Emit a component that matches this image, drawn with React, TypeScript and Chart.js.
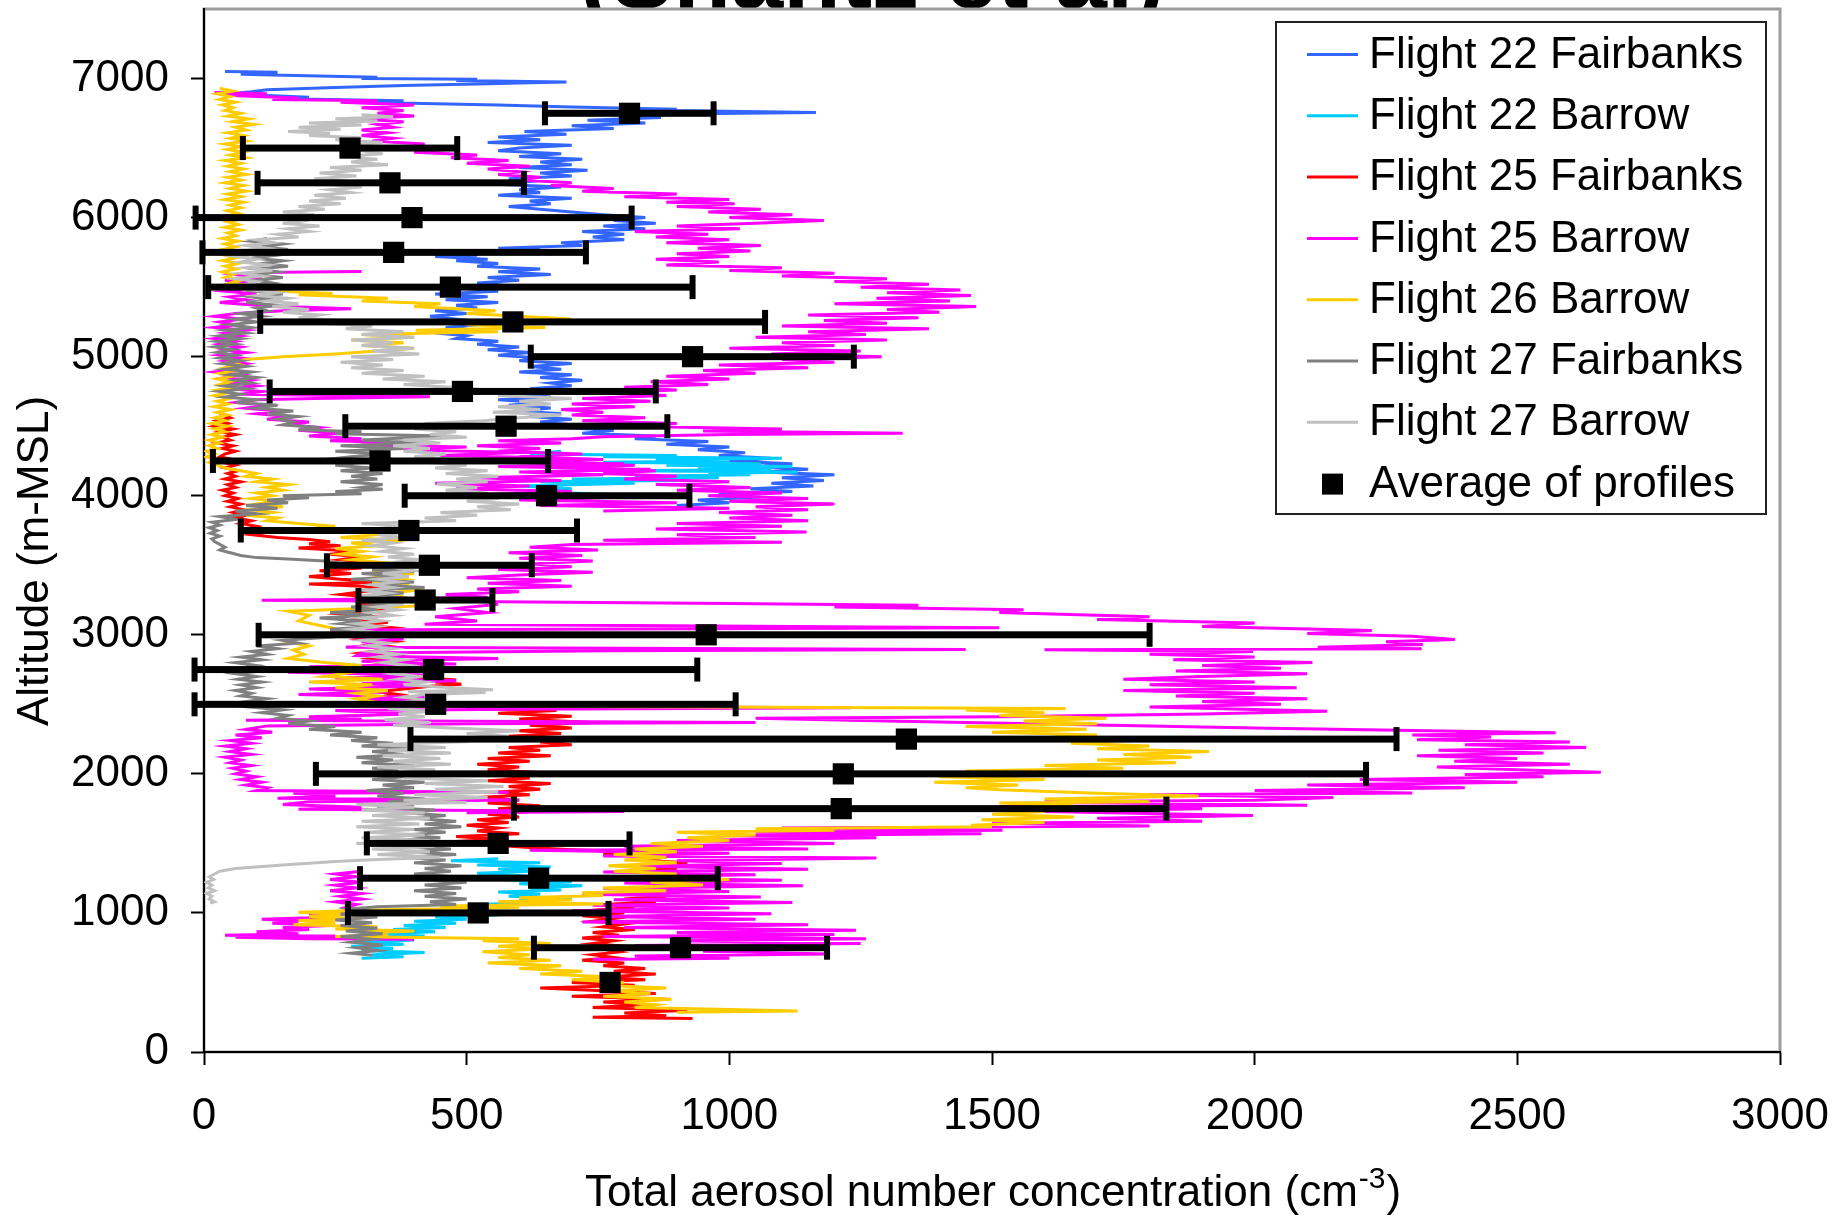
import React, { useEffect, useRef } from "react";
import { Chart, registerables } from "chart.js";

Chart.register(...registerables);

type Pt = [number, number] | null;

// Each profile: [concentration (cm^-3), altitude (m)], listed from the top of the profile down.
// A null entry breaks the line between two separate legs of the same flight.
const flight22Fairbanks: Pt[] = [
  [40,7050],[140,7045],[70,7030],[130,7025],[330,7010],[300,7000],[520,6995],[480,6985],[690,6975],[600,6968],
  [520,6960],[380,6950],[250,6935],[120,6920],[90,6905],[60,6895],[110,6880],[200,6865],[150,6855],[380,6840],
  [300,6830],[560,6810],[700,6795],[900,6780],[860,6772],[1165,6755],[980,6748],[820,6735],[870,6720],[730,6700],
  [840,6680],[700,6660],[780,6640],[610,6620],[690,6600],[560,6580],[640,6560],[540,6540],[700,6520],[600,6500],
  [560,6480],[680,6460],[600,6440],[720,6420],[640,6400],[700,6380],[600,6360],[730,6340],[640,6320],[700,6300],
  [580,6280],[620,6260],[560,6240],[680,6220],[600,6200],[640,6180],[560,6160],[700,6140],[620,6120],[660,6100],
  [580,6080],[640,6060],[700,6040],[760,6020],[840,6000],[780,5980],[860,5960],[760,5940],[840,5920],[720,5900],
  [800,5880],[740,5860],[800,5840],[680,5820],[720,5800],[560,5780],[640,5770],[460,5750],[520,5730],[440,5720],
  [540,5700],[480,5690],[560,5670],[520,5650],[640,5630],[560,5610],[660,5590],[540,5570],[600,5550],[520,5530],
  [580,5510],[500,5490],[560,5470],[440,5450],[540,5430],[460,5410],[560,5390],[480,5370],[520,5350],[440,5330],
  [500,5310],[430,5290],[480,5270],[440,5250],[520,5230],[460,5210],[520,5190],[440,5170],[500,5150],[480,5130],
  [560,5110],[520,5090],[600,5070],[540,5050],[620,5030],[560,5010],[640,4990],[600,4970],[700,4950],[620,4930],
  [680,4910],[600,4890],[700,4870],[640,4850],[720,4830],[660,4810],[700,4790],[620,4770],[680,4750],[600,4730],
  [660,4710],[560,4690],[640,4670],[580,4650],[660,4630],[600,4610],[680,4590],[620,4570],[700,4550],[640,4530],
  [700,4510],[680,4490],[780,4470],[720,4450],[860,4430],[820,4410],[960,4390],[880,4370],[1000,4350],[940,4330],
  [1030,4310],[980,4290],[1080,4270],[1000,4250],[1120,4230],[1050,4210],[1150,4190],[1060,4170],[1200,4150],[1100,4130],
  [1180,4110],[1080,4090],[1160,4070],[1040,4050],[1120,4030],[980,4010],[1060,3990],[940,3970],[1000,3950],[900,3930]
];

const flight22Barrow: Pt[] = [
  [680,4320],[620,4300],[900,4290],[760,4280],[1100,4270],[860,4260],[1000,4250],[760,4240],[1060,4230],[880,4220],
  [1120,4210],[940,4200],[1080,4190],[800,4180],[1130,4170],[960,4160],[1040,4150],[820,4140],[980,4130],[700,4120],
  [900,4110],[640,4100],[820,4090],[600,4070],[700,4050],[620,4030],[760,4010],[680,3995],
  null,
  [560,1390],[470,1375],[640,1360],[520,1345],[660,1330],[560,1315],[620,1300],[520,1285],[600,1270],[660,1255],
  [560,1240],[700,1225],[600,1210],[720,1195],[620,1180],[680,1165],[560,1150],[640,1135],[580,1120],[700,1105],
  [600,1090],[640,1075],[520,1060],[580,1045],[460,1030],[540,1015],[480,1000],[560,985],[440,970],[500,955],
  [400,940],[480,925],[380,910],[460,895],[360,880],[440,865],[340,850],[420,835],[320,820],[400,805],
  [300,790],[380,775],[280,760],[360,745],[300,730],[420,715],[320,700],[380,685],[300,675]
];

const flight25Fairbanks: Pt[] = [
  [30,4590],[50,4560],[25,4540],[45,4520],[20,4500],[55,4480],[30,4460],[60,4440],[35,4420],[50,4400],
  [25,4380],[55,4360],[35,4340],[60,4320],[40,4300],[30,4280],[55,4260],[35,4240],[60,4220],[40,4200],
  [65,4180],[45,4160],[60,4140],[40,4120],[70,4100],[45,4080],[60,4060],[35,4040],[55,4020],[40,4000],
  [65,3980],[45,3960],[70,3940],[50,3920],[75,3900],[55,3880],[80,3860],[60,3840],[90,3820],[70,3800],
  [100,3780],[80,3760],[120,3740],[90,3720],[140,3700],[200,3685],[240,3670],[200,3655],[260,3640],[180,3625],
  [247,3610],[280,3595],[240,3580],[300,3560],[260,3540],[320,3520],[260,3500],[300,3480],[220,3460],[280,3440],
  [200,3420],[260,3400],[356,3380],[200,3365],[300,3350],[340,3330],[300,3310],[260,3290],[320,3270],[270,3250],
  [340,3230],[290,3210],[350,3190],[300,3170],[260,3150],[330,3130],[290,3110],[350,3090],[300,3070],[360,3050],
  [320,3030],[290,3010],[340,2990],[300,2970],[360,2950],[320,2930],[366,2910],[340,2890],[300,2870],[360,2850],
  [320,2830],[380,2810],[340,2790],[300,2770],[360,2750],[330,2730],[380,2710],[420,2690],[480,2675],[440,2660],
  [490,2645],[430,2630],[380,2610],[330,2590],[370,2570],[330,2550],[400,2530],[460,2510],[560,2490],[500,2470],
  [671,2455],[560,2435],[700,2415],[600,2395],[738,2370],[620,2350],[700,2330],[600,2310],[680,2290],[580,2270],
  [759,2250],[640,2230],[700,2210],[580,2190],[640,2170],[560,2150],[660,2130],[540,2110],[620,2090],[520,2070],
  [600,2050],[540,2030],[640,2010],[560,1990],[620,1970],[540,1950],[660,1930],[580,1910],[640,1890],[560,1870],
  [620,1850],[520,1830],[600,1810],[540,1790],[640,1770],[560,1750],[620,1730],[540,1710],[600,1690],[520,1670],
  [580,1650],[500,1630],[560,1610],[520,1590],[600,1570],[480,1550],[560,1530],[460,1510],[540,1490],[620,1470],
  [700,1455],[820,1440],[760,1420],[880,1400],[820,1380],[920,1360],[860,1340],[900,1320],[820,1300],[920,1280],
  [860,1260],[940,1240],[880,1220],[920,1200],[840,1180],[900,1160],[820,1140],[880,1120],[800,1100],[860,1080],
  [760,1060],[820,1040],[740,1020],[800,1000],[720,980],[780,960],[740,940],[800,920],[760,900],[820,880],
  [740,860],[790,840],[720,820],[780,800],[740,780],[800,760],[760,740],[790,720],[740,700],[780,680],
  [720,660],[800,640],[760,620],[840,600],[780,580],[860,560],[760,540],[840,520],[700,500],[820,480],
  [640,460],[760,440],[860,420],[700,400],[880,380],[760,360],[840,340],[740,320],[920,300],[800,280],
  [880,260],[740,250],[930,240]
];

const flight25Barrow: Pt[] = [
  [20,6900],[120,6890],[40,6880],[100,6870],[180,6860],[130,6850],[330,6840],[260,6830],[400,6810],[300,6790],
  [380,6770],[330,6750],[400,6730],[290,6710],[380,6690],[330,6670],[360,6650],[300,6630],[350,6610],[300,6590],
  [360,6570],[320,6550],[420,6530],[380,6510],[460,6490],[400,6470],[520,6450],[470,6430],[580,6410],[500,6390],
  [620,6370],[540,6350],[600,6330],[560,6310],[640,6290],[600,6270],[700,6250],[660,6230],[780,6210],[720,6190],
  [900,6170],[800,6150],[1000,6130],[880,6110],[1010,6100],[900,6080],[1060,6060],[960,6040],[1120,6020],[1000,6000],
  [1180,5980],[1050,5960],[900,5940],[1020,5920],[820,5900],[960,5880],[860,5860],[1000,5840],[880,5820],[1060,5800],
  [940,5780],[1040,5760],[900,5740],[1000,5720],[860,5700],[980,5680],[880,5660],[1100,5640],[1000,5620],[1200,5600],
  [1100,5580],[1300,5560],[1200,5540],[1380,5520],[1250,5500],[1440,5480],[1300,5460],[1460,5440],[1280,5420],[1420,5400],
  [1200,5380],[1470,5360],[1300,5340],[1400,5320],[1150,5300],[1360,5280],[1180,5260],[1300,5240],[1100,5220],[1380,5200],
  [1150,5180],[1260,5160],[1050,5140],[1300,5120],[1100,5100],[1200,5080],[1000,5060],[1250,5040],[1080,5020],[1290,5000],
  [1100,4980],[1200,4960],[980,4940],[1150,4920],[950,4900],[1050,4880],[880,4860],[1000,4840],[850,4820],[960,4800],
  [800,4780],[900,4760],[760,4740],[880,4720],[720,4700],[850,4680],[700,4660],[820,4640],[680,4620],[760,4600],
  [700,4580],[840,4560],[720,4540],[900,4520],[800,4500],[1100,4480],[950,4465],[1330,4450],[1000,4440],[760,4425],
  [700,4410],[560,4395],[680,4380],[520,4360],[640,4340],[560,4320],[720,4300],[600,4280],[760,4260],[640,4240],
  [820,4220],[700,4200],[860,4180],[760,4160],[900,4140],[800,4120],[1000,4100],[860,4080],[1040,4060],[900,4040],
  [1100,4020],[960,4000],[1150,3980],[1000,3960],[1200,3940],[1050,3920],[1150,3900],[980,3880],[1120,3860],[1000,3840],
  [1150,3820],[900,3800],[1100,3780],[860,3760],[1147,3740],[900,3720],[1050,3700],[760,3680],[1100,3665],[700,3650],
  [620,3630],[750,3610],[580,3590],[720,3570],[600,3550],[740,3530],[620,3510],[700,3490],[560,3470],[740,3450],
  [600,3430],[500,3410],[680,3390],[540,3370],[700,3350],[520,3330],[600,3310],[460,3290],[540,3270],[300,3255],
  [110,3248],[250,3244],[560,3238],[1000,3225],[1360,3212],[1200,3200],[1560,3180],[1514,3160],[1800,3130],[1700,3110],
  [2000,3085],[1900,3060],[2223,3031],[2100,3010],[2300,2990],[2381,2966],[2250,2950],[2320,2930],[2120,2910],[2318,2900],
  [1600,2893],[1997,2880],[1800,2860],[2000,2840],[1845,2820],[2110,2800],[1900,2780],[2050,2760],[1850,2740],[2100,2720],
  [1900,2700],[1750,2680],[2000,2660],[1800,2640],[2080,2620],[1750,2600],[2000,2580],[1850,2560],[2100,2540],[1900,2520],
  [2050,2500],[1800,2480],[2138,2450],[1900,2430],[1514,2410],[1050,2400],[1300,2380],[2000,2330],[2573,2295],[2300,2280],
  [2450,2265],[2309,2246],[2600,2230],[2400,2210],[2631,2190],[2350,2170],[2550,2150],[2309,2130],[2500,2110],[2380,2090],
  [2600,2070],[2347,2050],[2500,2030],[2659,2011],[2400,1995],[2550,1980],[2200,1960],[2500,1940],[2100,1920],[2400,1900],
  [2000,1880],[2300,1862],[1800,1850],[2150,1830],[2000,1810],[1600,1800],[1800,1790],[2100,1775],[1514,1766],[1900,1750],
  [1600,1730],[1997,1700],[1700,1680],[1900,1660],[1500,1645],[1800,1625],[1100,1610],[1520,1595],[1050,1580],[1480,1570],
  [1000,1555],[1280,1540],[900,1520],[1200,1500],[800,1480],[1150,1460],[620,1450],[1000,1430],[760,1410],[1280,1395],
  [900,1375],[1100,1355],[820,1335],[1150,1315],[760,1295],[1050,1275],[720,1255],[1100,1235],[800,1215],[1140,1195],
  [760,1175],[1000,1155],[720,1135],[1060,1115],[780,1095],[1120,1075],[740,1055],[1000,1035],[700,1015],[1080,995],
  [760,975],[1050,955],[720,935],[1150,915],[800,895],[1241,875],[900,860],[1200,845],[760,830],[1260,815],
  [900,800],[1250,780],[820,765],[1180,745],[950,725],[1190,705],[820,690],[1000,675],[740,665],
  null,
  [300,5612],[100,5605],[60,5590],[110,5570],[40,5550],[90,5530],[30,5510],[80,5490],[40,5470],[100,5450],
  [50,5430],[80,5410],[30,5390],[120,5365],[280,5345],[150,5330],[60,5310],[20,5290],[70,5270],[30,5250],
  [60,5230],[20,5210],[80,5190],[40,5170],[70,5150],[20,5130],[60,5110],[30,5090],[70,5070],[40,5050],
  [80,5030],[30,5010],[70,4990],[40,4970],[80,4950],[50,4930],[60,4910],[20,4890],[70,4870],[40,4850],
  [90,4830],[60,4810],[100,4790],[50,4770],[110,4750],[70,4730],[430,4712],[210,4700],[100,4690],[60,4670],
  [120,4650],[80,4630],[140,4610],[100,4590],[160,4570],[120,4550],[200,4530],[160,4510],[220,4490],[180,4470],
  [260,4450],[200,4430],[300,4410],[240,4395],[400,4380],[300,4365],[500,4350],[380,4330],[600,4310],[450,4290],
  [700,4270],[500,4250],[800,4230],[560,4210],[850,4190],[600,4170],[760,4150],[520,4130],[680,4110],[440,4090],
  [620,4070],[480,4050],[700,4030],[560,4010],[800,3990],[600,3970],[900,3950],[640,3930],[1000,3910],[760,3890],
  null,
  [560,3220],[480,3190],[540,3160],[440,3130],[520,3100],[420,3075],[1514,3050],[800,3042],[240,3035],[300,3010],
  [260,2990],[380,2970],[300,2950],[350,2930],[270,2910],[1450,2895],[770,2885],[300,2870],[290,2850],[560,2830],
  [300,2810],[480,2790],[200,2770],[420,2750],[160,2730],[450,2710],[250,2690],[480,2670],[300,2650],[400,2630],
  [200,2610],[350,2590],[180,2570],[420,2550],[300,2530],[480,2510],[250,2490],[1230,2475],[600,2465],[250,2455],
  [400,2430],[200,2410],[300,2395],[80,2385],[1050,2370],[500,2360],[120,2345],[80,2320],[130,2300],[60,2280],
  [110,2260],[50,2240],[90,2220],[40,2200],[80,2180],[50,2160],[90,2140],[40,2120],[70,2100],[50,2080],
  [90,2060],[55,2040],[80,2020],[60,2000],[100,1980],[70,1960],[110,1940],[80,1920],[120,1900],[100,1880],
  [580,1868],[170,1860],[250,1840],[140,1825],[600,1812],[200,1800],[150,1780],[300,1760],[180,1745],[800,1730],
  [500,1720],
  null,
  [300,1300],[250,1280],[290,1260],[240,1240],[300,1220],[250,1200],[290,1180],[240,1160],[300,1140],[260,1120],
  [300,1100],[250,1080],[290,1060],[270,1040],[300,1020],[260,1000],[200,985],[250,970],[110,955],[180,940],
  [130,925],[240,910],[150,895],[200,880],[100,865],[180,850],[40,840],[250,835],[60,825],[200,815],[400,810]
];

const flight26Barrow: Pt[] = [
  [30,6930],[55,6910],[25,6890],[50,6870],[30,6850],[60,6830],[35,6810],[55,6790],[40,6770],[70,6750],
  [45,6730],[85,6710],[55,6690],[95,6670],[60,6650],[80,6630],[45,6610],[75,6590],[50,6570],[80,6550],
  [40,6530],[70,6510],[45,6490],[75,6470],[50,6450],[80,6430],[40,6410],[70,6390],[45,6370],[75,6350],
  [50,6330],[80,6310],[45,6290],[70,6270],[40,6250],[75,6230],[50,6210],[80,6190],[45,6170],[70,6150],
  [40,6130],[75,6110],[50,6090],[70,6070],[45,6050],[65,6030],[40,6010],[70,5990],[45,5970],[65,5950],
  [40,5930],[70,5910],[45,5890],[60,5870],[35,5850],[65,5830],[40,5810],[60,5790],[35,5770],[65,5750],
  [40,5730],[60,5710],[35,5690],[65,5670],[40,5650],[60,5630],[35,5610],[55,5590],[40,5570],[70,5550],
  [50,5530],[90,5510],[70,5490],[140,5470],[245,5455],[180,5445],[350,5420],[300,5400],[450,5380],[400,5360],
  [555,5330],[500,5310],[600,5290],[698,5270],[600,5250],[500,5230],[650,5210],[403,5190],[560,5180],[300,5160],
  [400,5140],[280,5120],[380,5100],[300,5080],[400,5060],[330,5040],[250,5020],[150,5000],[80,4980],[50,4960],
  [70,4940],[40,4920],[60,4900],[30,4880],[55,4860],[25,4840],[50,4820],[30,4800],[55,4780],[25,4760],
  [45,4740],[20,4720],[50,4700],[25,4680],[45,4660],[20,4640],[50,4620],[25,4600],[45,4580],[20,4560],
  [40,4540],[15,4520],[45,4500],[20,4480],[40,4460],[15,4440],[35,4420],[10,4400],[30,4380],[10,4360],
  [25,4340],[5,4320],[20,4300],[5,4280],[20,4260],[10,4240],[25,4220],[40,4200],[70,4180],[100,4160],
  [80,4140],[130,4120],[100,4100],[160,4080],[120,4060],[150,4040],[100,4020],[130,4000],[90,3980],[140,3960],
  [100,3940],[150,3920],[90,3900],[130,3880],[80,3860],[140,3840],[120,3820],[180,3800],[250,3780],[200,3760],
  [300,3740],[330,3720],[260,3700],[380,3680],[280,3660],[330,3640],[250,3620],[300,3600],[260,3580],[320,3560],
  [280,3540],[340,3520],[300,3500],[360,3480],[320,3460],[400,3440],[340,3420],[380,3400],[320,3380],[390,3360],
  [340,3340],[400,3320],[360,3300],[420,3210],[300,3190],[160,3170],[200,3140],[180,3100],[230,3060],[280,3020],
  [220,3000],[190,2980],[160,2950],[200,2920],[170,2890],[190,2860],[160,2830],[230,2800],[300,2780],[240,2760],
  [280,2730],[230,2700],[340,2680],[200,2660],[320,2640],[250,2620],[350,2600],[290,2580],[330,2560],[290,2540],
  [320,2520],[300,2500],[700,2485],[1200,2478],[1640,2470],[1450,2460],[1600,2440],[1514,2420],[1718,2400],[1560,2380],
  [1700,2360],[1450,2340],[1680,2320],[1500,2300],[1700,2280],[1600,2260],[1750,2240],[1650,2220],[1800,2200],[1700,2180],
  [1913,2160],[1750,2140],[1880,2120],[1700,2100],[1850,2080],[1600,2060],[1750,2040],[1450,2020],[1650,2000],[1400,1980],
  [1600,1960],[1390,1940],[1550,1920],[1450,1900],[1514,1885],[1700,1860],[1893,1840],[1600,1820],[1800,1800],[1514,1790],
  [1656,1770],[1460,1750],[1600,1730],[1500,1710],[1656,1690],[1480,1670],[1600,1650],[1460,1630],[1500,1620],[1050,1605],
  [1200,1595],[900,1580],[1050,1560],[920,1540],[1000,1520],[850,1500],[950,1480],[820,1460],[900,1440],[780,1420],
  [880,1400],[800,1380],[900,1360],[770,1340],[860,1320],[780,1300],[900,1280],[820,1260],[1000,1240],[850,1220],
  [950,1200],[760,1180],[880,1160],[720,1145],[760,1125],[600,1110],[700,1095],[560,1080],[760,1065],[450,1050],
  [600,1040],[300,1020],[180,1005],[270,990],[200,975],[300,960],[180,945],[250,930],[170,915],[330,900],
  [250,885],[400,870],[300,855],[350,840],[250,830],[600,815],[530,800],[660,780],[560,760],[640,740],
  [530,720],[620,700],[560,680],[660,660],[540,640],[680,620],[600,600],[720,580],[640,560],[780,540],
  [700,520],[800,500],[760,480],[880,460],[780,440],[850,420],[760,400],[890,380],[800,360],[860,340],
  [820,320],[1000,305],[1130,295],[900,285]
];

const flight27Fairbanks: Pt[] = [
  [120,5850],[90,5830],[150,5810],[110,5790],[160,5770],[100,5750],[140,5730],[90,5710],[150,5690],[110,5670],
  [160,5650],[100,5630],[140,5610],[90,5590],[150,5570],[100,5550],[130,5530],[80,5510],[140,5490],[100,5470],
  [150,5450],[90,5430],[130,5410],[80,5390],[140,5370],[100,5350],[120,5330],[70,5310],[110,5290],[60,5270],
  [100,5250],[50,5230],[90,5210],[40,5190],[80,5170],[30,5150],[70,5130],[25,5110],[60,5090],[20,5070],
  [55,5050],[25,5030],[60,5010],[30,4990],[70,4970],[35,4950],[80,4930],[40,4910],[90,4890],[50,4870],
  [100,4850],[60,4830],[90,4810],[40,4790],[80,4770],[30,4750],[70,4730],[40,4710],[100,4690],[60,4670],
  [140,4650],[100,4630],[170,4610],[120,4590],[180,4570],[140,4550],[170,4530],[150,4510],[220,4490],[180,4475],
  [300,4460],[250,4445],[460,4430],[380,4415],[300,4400],[420,4380],[260,4360],[380,4340],[250,4320],[340,4300],
  [280,4280],[230,4260],[300,4240],[250,4220],[320,4200],[260,4180],[340,4160],[280,4140],[330,4120],[260,4100],
  [340,4080],[300,4060],[340,4046],[250,4030],[300,4015],[150,4000],[200,3985],[120,3970],[160,3950],[80,3930],
  [140,3910],[60,3890],[100,3870],[30,3850],[60,3830],[15,3810],[30,3790],[10,3770],[25,3750],[12,3730],
  [30,3710],[15,3690],[20,3670],[30,3650],[40,3630],[30,3610],[50,3590],[70,3570],[100,3555],[160,3545],
  [230,3530],[260,3515],[300,3500],[360,3485],[320,3470],[400,3455],[300,3440],[380,3420],[280,3400],[400,3380],
  [320,3360],[420,3340],[300,3320],[380,3300],[320,3280],[400,3260],[300,3240],[360,3220],[280,3200],[330,3180],
  [240,3160],[320,3140],[220,3120],[300,3100],[260,3080],[330,3060],[240,3040],[300,3020],[200,3000],[230,2980],
  [150,2960],[180,2940],[100,2920],[140,2900],[90,2880],[120,2860],[70,2840],[110,2820],[60,2800],[100,2780],
  [70,2760],[110,2740],[60,2720],[100,2700],[65,2680],[110,2660],[70,2640],[100,2620],[60,2600],[90,2580],
  [70,2560],[120,2540],[80,2520],[130,2500],[90,2480],[150,2460],[110,2440],[160,2420],[140,2400],[200,2380],
  [160,2360],[250,2340],[200,2320],[300,2300],[240,2280],[330,2260],[280,2240],[360,2220],[300,2200],[400,2180],
  [320,2160],[380,2140],[290,2120],[360,2100],[300,2080],[400,2060],[320,2040],[370,2020],[300,2000],[380,1980],
  [320,1960],[420,1940],[340,1920],[400,1900],[310,1880],[380,1860],[330,1840],[420,1820],[350,1800],[400,1780],
  [330,1760],[440,1740],[380,1720],[460,1700],[400,1680],[480,1660],[420,1640],[490,1620],[400,1600],[460,1580],
  [380,1560],[450,1540],[360,1520],[440,1500],[380,1480],[470,1460],[400,1440],[480,1420],[380,1400],[460,1380],
  [400,1360],[490,1340],[420,1320],[470,1300],[400,1280],[480,1260],[410,1240],[500,1220],[420,1200],[490,1180],
  [400,1160],[480,1140],[420,1120],[500,1100],[430,1080],[480,1060],[330,1045],[280,1030],[320,1010],[260,990],
  [330,970],[250,950],[320,930],[260,910],[330,890],[270,870],[340,850],[260,830],[320,810],[280,790],
  [340,770],[290,750],[330,730],[280,710],[320,695]
];

const flight27Barrow: Pt[] = [
  [300,6740],[360,6725],[250,6710],[330,6695],[200,6680],[300,6665],[180,6650],[260,6635],[160,6620],[240,6605],
  [200,6590],[300,6575],[250,6560],[340,6540],[280,6520],[360,6500],[300,6480],[340,6460],[260,6440],[330,6420],
  [280,6400],[350,6380],[240,6360],[300,6340],[220,6320],[290,6300],[210,6280],[280,6260],[230,6240],[300,6220],
  [240,6200],[280,6180],[210,6160],[270,6140],[200,6120],[260,6100],[180,6080],[230,6060],[150,6040],[210,6020],
  [140,6000],[200,5980],[150,5960],[220,5940],[160,5920],[200,5900],[140,5880],[180,5860],[100,5840],[130,5820],
  [80,5800],[120,5780],[70,5760],[110,5740],[60,5720],[100,5700],[70,5680],[120,5660],[80,5640],[130,5620],
  [70,5600],[110,5580],[60,5560],[100,5540],[80,5520],[120,5500],[90,5480],[140,5460],[100,5440],[160,5420],
  [120,5400],[180,5380],[130,5360],[200,5340],[150,5320],[220,5300],[180,5280],[260,5260],[220,5240],[320,5220],
  [270,5200],[380,5180],[300,5160],[400,5140],[280,5120],[360,5100],[300,5080],[400,5060],[320,5040],[410,5020],
  [280,5000],[360,4980],[260,4960],[340,4940],[280,4920],[380,4900],[300,4880],[420,4860],[340,4840],[460,4820],
  [380,4800],[470,4780],[540,4760],[620,4740],[560,4720],[700,4700],[600,4680],[660,4660],[560,4640],[640,4620],
  [550,4600],[680,4580],[600,4560],[530,4540],[420,4520],[500,4500],[400,4480],[480,4460],[430,4440],[500,4420],
  [380,4400],[450,4380],[360,4360],[430,4340],[380,4320],[460,4300],[400,4280],[480,4260],[420,4240],[500,4220],
  [440,4200],[540,4180],[460,4160],[560,4140],[480,4120],[540,4100],[443,4085],[520,4060],[460,4040],[540,4020],
  [480,4000],[560,3980],[500,3960],[600,3940],[520,3920],[584,3900],[450,3880],[520,3860],[420,3840],[480,3820],
  [300,3800],[388,3780],[320,3760],[400,3740],[330,3720],[380,3700],[300,3680],[360,3660],[320,3640],[380,3620],
  [340,3600],[400,3580],[350,3560],[410,3540],[360,3520],[420,3500],[370,3480],[400,3460],[340,3440],[390,3420],
  [330,3400],[370,3380],[320,3360],[360,3340],[310,3320],[350,3300],[300,3280],[360,3260],[320,3240],[380,3220],
  [330,3200],[370,3180],[320,3160],[360,3140],[300,3120],[340,3100],[290,3080],[330,3060],[280,3040],[320,3020],
  [290,3000],[340,2980],[300,2960],[350,2940],[310,2920],[360,2900],[320,2880],[370,2860],[330,2840],[380,2820],
  [340,2800],[390,2780],[350,2760],[400,2740],[360,2720],[410,2700],[370,2680],[420,2660],[380,2640],[470,2620],
  [550,2605],[388,2590],[536,2585],[420,2570],[380,2550],[430,2530],[360,2510],[420,2490],[350,2470],[430,2450],
  [370,2430],[420,2410],[344,2390],[432,2370],[360,2350],[470,2330],[600,2310],[500,2290],[580,2270],[450,2250],
  [480,2230],[330,2210],[460,2190],[350,2170],[470,2150],[340,2130],[450,2110],[360,2090],[470,2070],[330,2050],
  [440,2030],[380,2010],[460,1990],[380,1970],[540,1950],[420,1930],[570,1910],[440,1890],[560,1870],[400,1850],
  [540,1830],[380,1810],[500,1795],[290,1780],[400,1760],[300,1740],[420,1720],[320,1700],[430,1680],[300,1660],
  [410,1640],[290,1620],[400,1600],[310,1580],[420,1560],[300,1540],[430,1520],[290,1500],[440,1480],[320,1460],
  [430,1440],[330,1420],[450,1400],[330,1385],[250,1370],[150,1345],[60,1320],[30,1300],[20,1280],[10,1260],
  [18,1240],[5,1220],[15,1200],[8,1180],[20,1160],[5,1140],[15,1120],[10,1100],[20,1080],[12,1070]
];

// Average of the profiles in 250 m layers, with the horizontal spread bars
const avgAltitude = [6750,6500,6250,6000,5750,5500,5250,5000,4750,4500,4250,4000,3750,3500,3250,3000,2750,2500,2250,2000,1750,1500,1250,1000,750,500];
const avgConcentration = [810,278,354,396,361,469,588,930,492,575,335,652,390,429,421,956,437,441,1337,1217,1213,560,637,522,907,773];
const avgLower: (number | null)[] = [649,74,102,-16,-3,8,107,622,125,269,17,382,70,234,294,104,-18,-18,393,213,590,310,297,274,628,null];
const avgUpper: (number | null)[] = [970,482,609,814,727,930,1068,1237,860,882,655,924,710,624,549,1800,939,1012,2270,2212,1832,810,978,770,1186,null];

const xTickValues = [0, 500, 1000, 1500, 2000, 2500, 3000];
const yTickValues = [0, 1000, 2000, 3000, 4000, 5000, 6000, 7000];

const seriesNames = [
  "Flight 22 Fairbanks",
  "Flight 22 Barrow",
  "Flight 25 Fairbanks",
  "Flight 25 Barrow",
  "Flight 26 Barrow",
  "Flight 27 Fairbanks",
  "Flight 27 Barrow",
];
const seriesColors = ["#3366FF", "#00CCFF", "#FF0000", "#FF00FF", "#FFCC00", "#808080", "#C0C0C0"];
const seriesData = [flight22Fairbanks, flight22Barrow, flight25Fairbanks, flight25Barrow, flight26Barrow, flight27Fairbanks, flight27Barrow];
const averageName = "Average of profiles";

const chartTitle = "(Shantz et al)";
const xAxisTitle = "Total aerosol number concentration (cm";
const xAxisTitleSup = "-3";
const yAxisTitle = "Altitude (m-MSL)";

const FONT = '"Liberation Sans", Arial, Helvetica, sans-serif';

const toXY = (pts: Pt[]) => pts.map((p) => (p ? { x: p[0], y: p[1] } : { x: null, y: null }));

const decorPlugin = {
  id: "decor",
  beforeDraw(chart: any) {
    const { ctx, chartArea: a } = chart;
    ctx.save();
    ctx.fillStyle = "#ffffff";
    ctx.fillRect(0, 0, chart.width, chart.height);
    // large title sits behind the plot area; only its lower edge shows above it
    ctx.beginPath();
    ctx.rect(0, 0, chart.width, a.top);
    ctx.clip();
    ctx.fillStyle = "#000";
    ctx.font = `bold 94px ${FONT}`;
    ctx.textAlign = "center";
    ctx.textBaseline = "alphabetic";
    ctx.fillText(chartTitle, 872, 8);
    ctx.restore();
    // plot frame
    ctx.save();
    ctx.strokeStyle = "#9c9c9c";
    ctx.lineWidth = 3;
    ctx.strokeRect(a.left, a.top, a.right - a.left, a.bottom - a.top);
    ctx.restore();
  },
  afterDatasetsDraw(chart: any) {
    const { ctx } = chart;
    const xs = chart.scales.x;
    const ys = chart.scales.y;
    ctx.save();
    ctx.fillStyle = "#000";
    avgAltitude.forEach((alt, i) => {
      const lo = avgLower[i];
      const hi = avgUpper[i];
      if (lo == null || hi == null) return;
      const y = ys.getPixelForValue(alt);
      const x0 = xs.getPixelForValue(lo);
      const x1 = xs.getPixelForValue(hi);
      ctx.fillRect(x0, y - 3.5, x1 - x0, 7);
      ctx.fillRect(x0 - 3, y - 12, 6, 24);
      ctx.fillRect(x1 - 3, y - 12, 6, 24);
    });
    ctx.restore();
  },
  afterDraw(chart: any) {
    const { ctx } = chart;
    ctx.save();
    // legend
    const bx = 1276, by = 22, bw = 490, bh = 492;
    ctx.fillStyle = "#fff";
    ctx.fillRect(bx, by, bw, bh);
    ctx.strokeStyle = "#222";
    ctx.lineWidth = 2;
    ctx.strokeRect(bx, by, bw, bh);
    ctx.font = `44px ${FONT}`;
    ctx.textAlign = "left";
    ctx.textBaseline = "middle";
    const rowH = 61.3;
    seriesNames.forEach((name, i) => {
      const cy = 54.5 + i * rowH;
      ctx.strokeStyle = seriesColors[i];
      ctx.lineWidth = 3;
      ctx.beginPath();
      ctx.moveTo(1307, cy);
      ctx.lineTo(1358, cy);
      ctx.stroke();
      ctx.fillStyle = "#000";
      ctx.fillText(name, 1369, cy + 1);
    });
    const cyAvg = 54.5 + 7 * rowH;
    ctx.fillStyle = "#000";
    ctx.fillRect(1322, cyAvg - 10, 21, 21);
    ctx.fillText(averageName, 1369, cyAvg + 1);

    // x axis title with superscript
    ctx.textBaseline = "alphabetic";
    ctx.font = `44px ${FONT}`;
    const tx = 585;
    ctx.fillText(xAxisTitle, tx, 1206);
    const w1 = ctx.measureText(xAxisTitle).width;
    ctx.font = `30px ${FONT}`;
    ctx.fillText(xAxisTitleSup, tx + w1 + 1, 1188);
    const w2 = ctx.measureText(xAxisTitleSup).width;
    ctx.font = `44px ${FONT}`;
    ctx.fillText(")", tx + w1 + w2 + 2, 1206);

    // y axis title
    ctx.translate(48, 561);
    ctx.rotate(-Math.PI / 2);
    ctx.textAlign = "center";
    ctx.fillText(yAxisTitle, 0, 0);
    ctx.restore();
  },
};

export default function App() {
  const canvasRef = useRef<HTMLCanvasElement | null>(null);

  useEffect(() => {
    if (!canvasRef.current) return;
    const datasets: any[] = seriesData.map((pts, i) => ({
      label: seriesNames[i],
      data: toXY(pts),
      showLine: true,
      borderColor: seriesColors[i],
      backgroundColor: seriesColors[i],
      borderWidth: 3,
      pointRadius: 0,
      pointHoverRadius: 0,
      tension: 0,
      spanGaps: false,
      order: 20 - i,
    }));
    datasets.push({
      label: averageName,
      data: avgAltitude.map((alt, i) => ({ x: avgConcentration[i], y: alt })),
      showLine: false,
      pointStyle: "rect",
      pointRadius: 15,
      pointHoverRadius: 15,
      backgroundColor: "#000",
      borderColor: "#000",
      borderWidth: 0,
      order: 0,
    });

    const tickFont = { family: FONT, size: 44 };
    const chart = new Chart(canvasRef.current, {
      type: "scatter",
      data: { datasets },
      options: {
        animation: false,
        responsive: false,
        devicePixelRatio: 1,
        events: [],
        layout: { autoPadding: false, padding: { top: 9, right: 55, left: 0, bottom: 0 } },
        plugins: { legend: { display: false }, tooltip: { enabled: false }, title: { display: false } },
        scales: {
          x: {
            type: "linear",
            min: 0,
            max: 3000,
            afterBuildTicks: (s: any) => {
              s.ticks = xTickValues.map((v) => ({ value: v }));
            },
            ticks: { color: "#000", font: tickFont, padding: 25, maxRotation: 0, autoSkip: false, callback: (v: any) => String(v) },
            grid: { drawOnChartArea: false, drawTicks: true, tickLength: 13, tickColor: "#000", tickWidth: 2 },
            border: { display: true, color: "#000", width: 2 },
            afterFit: (s: any) => {
              s.height = 164;
              s.paddingLeft = 0;
              s.paddingRight = 0;
            },
          },
          y: {
            type: "linear",
            min: 0,
            max: 7500,
            afterBuildTicks: (s: any) => {
              s.ticks = yTickValues.map((v) => ({ value: v }));
            },
            ticks: { color: "#000", font: tickFont, padding: 22, autoSkip: false, callback: (v: any) => String(v) },
            grid: { drawOnChartArea: false, drawTicks: true, tickLength: 13, tickColor: "#000", tickWidth: 2 },
            border: { display: true, color: "#000", width: 2 },
            afterFit: (s: any) => {
              s.width = 204;
              s.paddingTop = 0;
              s.paddingBottom = 0;
            },
          },
        },
      },
      plugins: [decorPlugin],
    } as any);
    return () => chart.destroy();
  }, []);

  return (
    <div style={{ position: "absolute", left: 0, top: 0, width: 1835, height: 1216, background: "#fff" }}>
      <canvas ref={canvasRef} width={1835} height={1216} style={{ display: "block" }} />
    </div>
  );
}
